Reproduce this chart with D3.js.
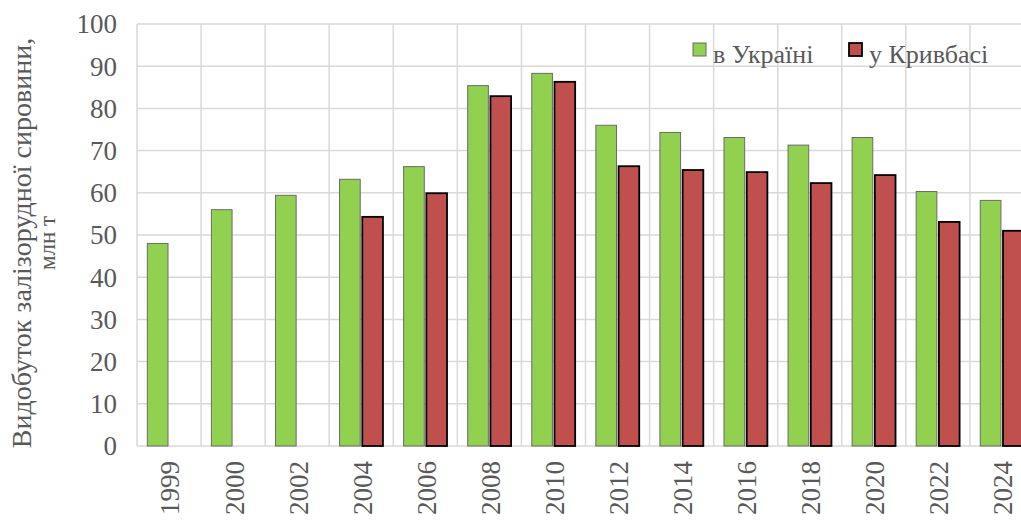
<!DOCTYPE html>
<html>
<head>
<meta charset="utf-8">
<script src="https://cdn.jsdelivr.net/npm/d3@7"></script>
<style>
  body { margin: 0; background: #fff; }
</style>
</head>
<body>
<div class="chart"></div>
<script>
// data
const years = ["1999", "2000", "2002", "2004", "2006", "2008", "2010", "2012", "2014", "2016", "2018", "2020", "2022", "2024"]
const ukraine = [48.0, 56.0, 59.4, 63.2, 66.2, 85.4, 88.3, 76.0, 74.3, 73.1, 71.3, 73.1, 60.3, 58.2]
const kryvbas = [null, null, null, 54.3, 59.9, 82.9, 86.3, 66.3, 65.4, 64.9, 62.3, 64.2, 53.1, 51.0]
const yTicks = [0, 10, 20, 30, 40, 50, 60, 70, 80, 90, 100]
const seriesNames = ["в Україні", "у Кривбасі"]

const width = 1021, height = 522
const margin = {left: 137, top: 24, bottom: 76}
const plotRight = 1034 // plot runs past the right edge of the picture

const svg = d3.select(".chart").append("svg")
  .attr("width", width)
  .attr("height", height)
  .attr("font-family", "'Liberation Serif', 'Times New Roman', 'DejaVu Serif', serif")

const xs = d3.scaleBand().domain(years).range([margin.left, plotRight])
const ys = d3.scaleLinear().domain([0, 100]).range([height - margin.bottom, margin.top])

// gridlines
svg.append("g").selectAll("line").data(yTicks).join("line")
  .attr("x1", margin.left).attr("x2", plotRight)
  .attr("y1", d => ys(d)).attr("y2", d => ys(d))
  .attr("stroke", "#d9d9d9").attr("stroke-width", 1.5)

svg.append("g").selectAll("line").data(years).join("line")
  .attr("x1", d => xs(d)).attr("x2", d => xs(d))
  .attr("y1", ys(0)).attr("y2", ys(100))
  .attr("stroke", "#d9d9d9").attr("stroke-width", 1.5)

// bars
const inner = d3.scaleBand().domain([0, 1]).range([0, xs.bandwidth()]).paddingInner(4 / 44).paddingOuter(10 / 22)
// ~10px pad, 20px bar, 4px gap

svg.append("g").selectAll("rect").data(years).join("rect")
  .attr("x", (d, i) => xs(d) + inner(0))
  .attr("width", inner.bandwidth())
  .attr("y", (d, i) => ys(ukraine[i]))
  .attr("height", (d, i) => ys(0) - ys(ukraine[i]))
  .attr("fill", "#92d050")
  .attr("stroke", "#6b6b6b").attr("stroke-width", 1)

svg.append("g").selectAll("rect").data(years.filter((d, i) => kryvbas[i] != null)).join("rect")
  .attr("x", d => xs(d) + inner(1))
  .attr("width", inner.bandwidth())
  .attr("y", d => ys(kryvbas[years.indexOf(d)]))
  .attr("height", d => ys(0) - ys(kryvbas[years.indexOf(d)]))
  .attr("fill", "#c0504d")
  .attr("stroke", "#000").attr("stroke-width", 1.8)

// y axis labels
svg.append("g").selectAll("text").data(yTicks).join("text")
  .attr("x", 117)
  .attr("y", d => ys(d))
  .attr("dy", "0.35em")
  .attr("text-anchor", "end")
  .attr("fill", "#595959")
  .style("font-size", "27px")
  .text(d => d)

// x axis labels (rotated)
svg.append("g").selectAll("text").data(years).join("text")
  .attr("transform", d => `translate(${xs(d) + xs.bandwidth() / 2 + 1}, 461) rotate(-90)`)
  .attr("text-anchor", "end")
  .attr("dy", "0.35em")
  .attr("fill", "#595959")
  .style("font-size", "27px")
  .text(d => d)

// axis title
const title = svg.append("text")
  .attr("transform", "translate(0, 243) rotate(-90)")
  .attr("text-anchor", "middle")
  .attr("fill", "#595959")
  .style("font-size", "28px")
title.append("tspan").attr("x", 0).attr("y", 31).text("Видобуток залізорудної сировини,")
title.append("tspan").attr("x", 0).attr("y", 55).style("font-size", "23px").text("млн т")

// legend
const legend = svg.append("g")
const legX = [693, 849]
legend.selectAll("rect").data(seriesNames).join("rect")
  .attr("x", (d, i) => legX[i]).attr("y", 43)
  .attr("width", 13).attr("height", 13)
  .attr("fill", (d, i) => i ? "#c0504d" : "#92d050")
  .attr("stroke", (d, i) => i ? "#000" : "#6b6b6b")
  .attr("stroke-width", (d, i) => i ? 1.8 : 1)
legend.selectAll("text").data(seriesNames).join("text")
  .attr("x", (d, i) => legX[i] + 20).attr("y", 63)
  .attr("fill", "#595959")
  .style("font-size", "26px")
  .text(d => d)
</script>
</body>
</html>
